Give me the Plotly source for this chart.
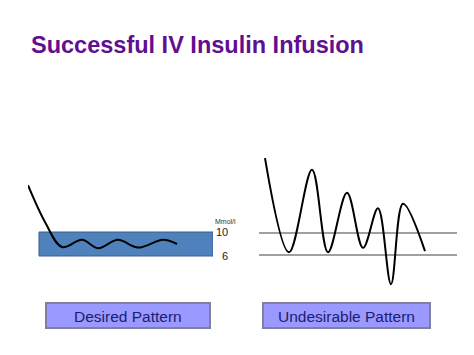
import plotly.graph_objects as go

# Desired pattern: time (arbitrary units) vs glucose (mmol/l)
desired_t = [0, 3.5, 6.8, 10.8, 14.0, 18.0, 22.0, 27.0, 29.8]
desired_g = [17.8, 11.5, 7.5, 8.7, 7.3, 8.7, 7.4, 8.7, 8.0]

# Undesirable pattern
undesired_t = [1.2, 6.0, 10.6, 13.8, 17.6, 20.8, 23.8, 26.4, 28.8, 33.2]
undesired_g = [23.6, 6.5, 21.5, 6.5, 17.3, 7.3, 14.5, 0.7, 15.3, 6.7]

target_low, target_high = 6, 10
target_labels = ["6", "10"]
unit_label = "Mmol/l"
title_text = "Successful IV Insulin Infusion"
panel_labels = ["Desired Pattern", "Undesirable Pattern"]

OFF = 8  # page body margin
W, H = 474 - OFF, 355 - OFF
FONT = "Liberation Sans, Arial, sans-serif"


def px(v):
    return (v - OFF) / W


def py(v):
    return 1 - (v - OFF) / H


fig = go.Figure()
fig.add_trace(go.Scatter(x=desired_t, y=desired_g, mode="lines",
                         line=dict(color="black", width=2, shape="spline", smoothing=1.0),
                         xaxis="x", yaxis="y", showlegend=False, hoverinfo="skip"))
fig.add_trace(go.Scatter(x=undesired_t, y=undesired_g, mode="lines",
                         line=dict(color="black", width=2, shape="spline", smoothing=1.0),
                         xaxis="x2", yaxis="y2", showlegend=False, hoverinfo="skip"))

# target band (left)
fig.add_shape(type="rect", xref="x", yref="y", x0=2.2, x1=37, y0=target_low, y1=target_high,
              fillcolor="#4f81bd", line=dict(color="#385d8a", width=1), layer="below")
# target lines (right)
for v in (target_low, target_high):
    fig.add_shape(type="line", xref="x2 domain", yref="y2", x0=0, x1=1, y0=v, y1=v,
                  line=dict(color="#808080", width=1.3), layer="below")

axis_common = dict(showgrid=False, zeroline=False, showticklabels=False, showline=False, ticks="")
fig.update_layout(
    width=W, height=H,
    margin=dict(l=0, r=0, t=0, b=0),
    paper_bgcolor="white", plot_bgcolor="rgba(0,0,0,0)",
    xaxis=dict(domain=[px(28), px(213)], range=[0, 37], **axis_common),
    yaxis=dict(domain=[py(292), py(142)], range=[0, 25], **axis_common),
    xaxis2=dict(domain=[px(259), px(457)], range=[0, 39.6], anchor="y2", **axis_common),
    yaxis2=dict(domain=[py(288), py(150.5)], range=[0, 25], anchor="x2", **axis_common),
)

annotations = [
    dict(text="<b>" + title_text + "</b>", x=px(29), y=py(45), xref="paper", yref="paper",
         xanchor="left", yanchor="middle", showarrow=False,
         font=dict(family=FONT, size=23.5, color="#5f0f8f")),
    dict(text=unit_label, x=px(225), y=py(221), xref="paper", yref="paper",
         xanchor="center", yanchor="middle",
         showarrow=False, font=dict(family=FONT, size=7, color="#333333")),
    dict(text=target_labels[1], x=px(222), y=target_high, xref="paper", yref="y",
         xanchor="center", yanchor="middle",
         showarrow=False, font=dict(family=FONT, size=11, color="#222222")),
    dict(text=target_labels[0], x=px(224.5), y=target_low, xref="paper", yref="y",
         xanchor="center", yanchor="middle",
         showarrow=False, font=dict(family=FONT, size=11, color="#222222")),
]
fig.update_layout(annotations=annotations)

# label boxes
boxes = [(46, 210), (263, 430)]
for (x0, x1), lab in zip(boxes, panel_labels):
    fig.add_shape(type="rect", xref="paper", yref="paper", x0=px(x0), x1=px(x1),
                  y0=py(328), y1=py(303), fillcolor="#9999ff",
                  line=dict(color="#7f7f9f", width=2))
    fig.add_annotation(text=lab, x=px((x0 + x1) / 2), y=py(316), xref="paper", yref="paper",
                       xanchor="center", yanchor="middle",
                       showarrow=False, font=dict(family=FONT, size=15.5, color="#1c1c70"))

fig.write_html("out.html")
